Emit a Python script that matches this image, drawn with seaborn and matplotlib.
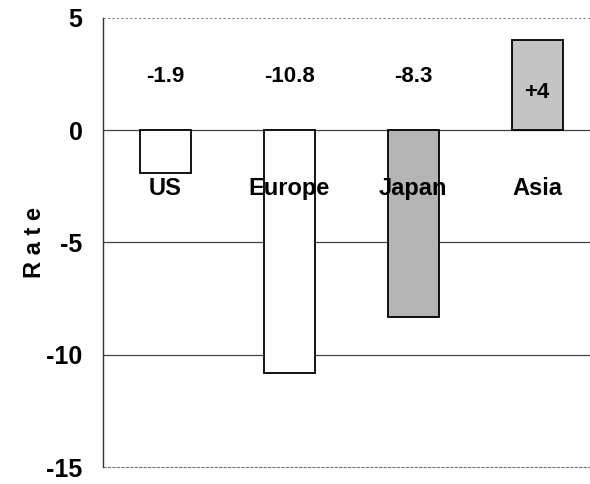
import matplotlib
matplotlib.use("Agg")
import matplotlib.pyplot as plt
import seaborn as sns
import pandas as pd

# datos
regiones = ["US", "Europe", "Japan", "Asia"]
tasas = [-1.9, -10.8, -8.3, 4]
etiquetas = ["-1.9", "-10.8", "-8.3", "+4"]
colores = ["#ffffff", "#ffffff", "#b4b4b4", "#c4c4c4"]
yticks = [5, 0, -5, -10, -15]

sns.set_style("white")
plt.rcParams['font.family'] = ['Liberation Sans', 'DejaVu Sans']
plt.rcParams['text.color'] = 'black'
plt.rcParams['ytick.color'] = 'black'
plt.rcParams['axes.labelcolor'] = 'black'

df = pd.DataFrame({"region": regiones, "rate": tasas})

fig = plt.figure(figsize=(5.9, 4.84), dpi=100)
ax = fig.add_axes([0.175, 0.035, 0.83, 0.928])

# lineas de grilla primero, asi quedan detras de las barras
for t in yticks:
    if t == 5:
        ax.axhline(t, color="#888888", lw=0.8, ls=(0, (2, 2)), zorder=0, clip_on=False)
    elif t == -15:
        ax.axhline(t, color="#777777", lw=0.8, ls=(0, (3, 1)), zorder=0, clip_on=False)
    else:
        ax.axhline(t, color="#444444", lw=0.9, zorder=0)

sns.barplot(data=df, x="region", y="rate", hue="region", palette=colores,
            legend=False, width=0.41, edgecolor="black", linewidth=1.3,
            ax=ax, zorder=2)

# valores arriba y nombres debajo de la linea de cero
for i, (reg, lab) in enumerate(zip(regiones, etiquetas)):
    y_val = 1.7 if tasas[i] > 0 else 2.4
    ax.text(i, y_val, lab, ha="center", va="center", fontsize=16,
            fontweight="bold", zorder=3)
    ax.text(i, -2.6, reg, ha="center", va="center", fontsize=17,
            fontweight="bold", zorder=3)

ax.set_ylim(-15, 5)
ax.set_xlim(-0.5, 3.45)
ax.set_yticks(yticks)
ax.set_yticklabels([str(t) for t in yticks], fontsize=18, fontweight="bold")
ax.set_xticks([])
ax.set_xlabel("")
ax.set_ylabel("R a t e", fontsize=17, fontweight="bold", labelpad=0)
ax.tick_params(axis="y", length=0, pad=15)

for s in ["top", "right", "bottom"]:
    ax.spines[s].set_visible(False)
ax.spines["left"].set_color("#333333")
ax.spines["left"].set_linewidth(1.0)

plt.savefig("out.png", dpi=100)
